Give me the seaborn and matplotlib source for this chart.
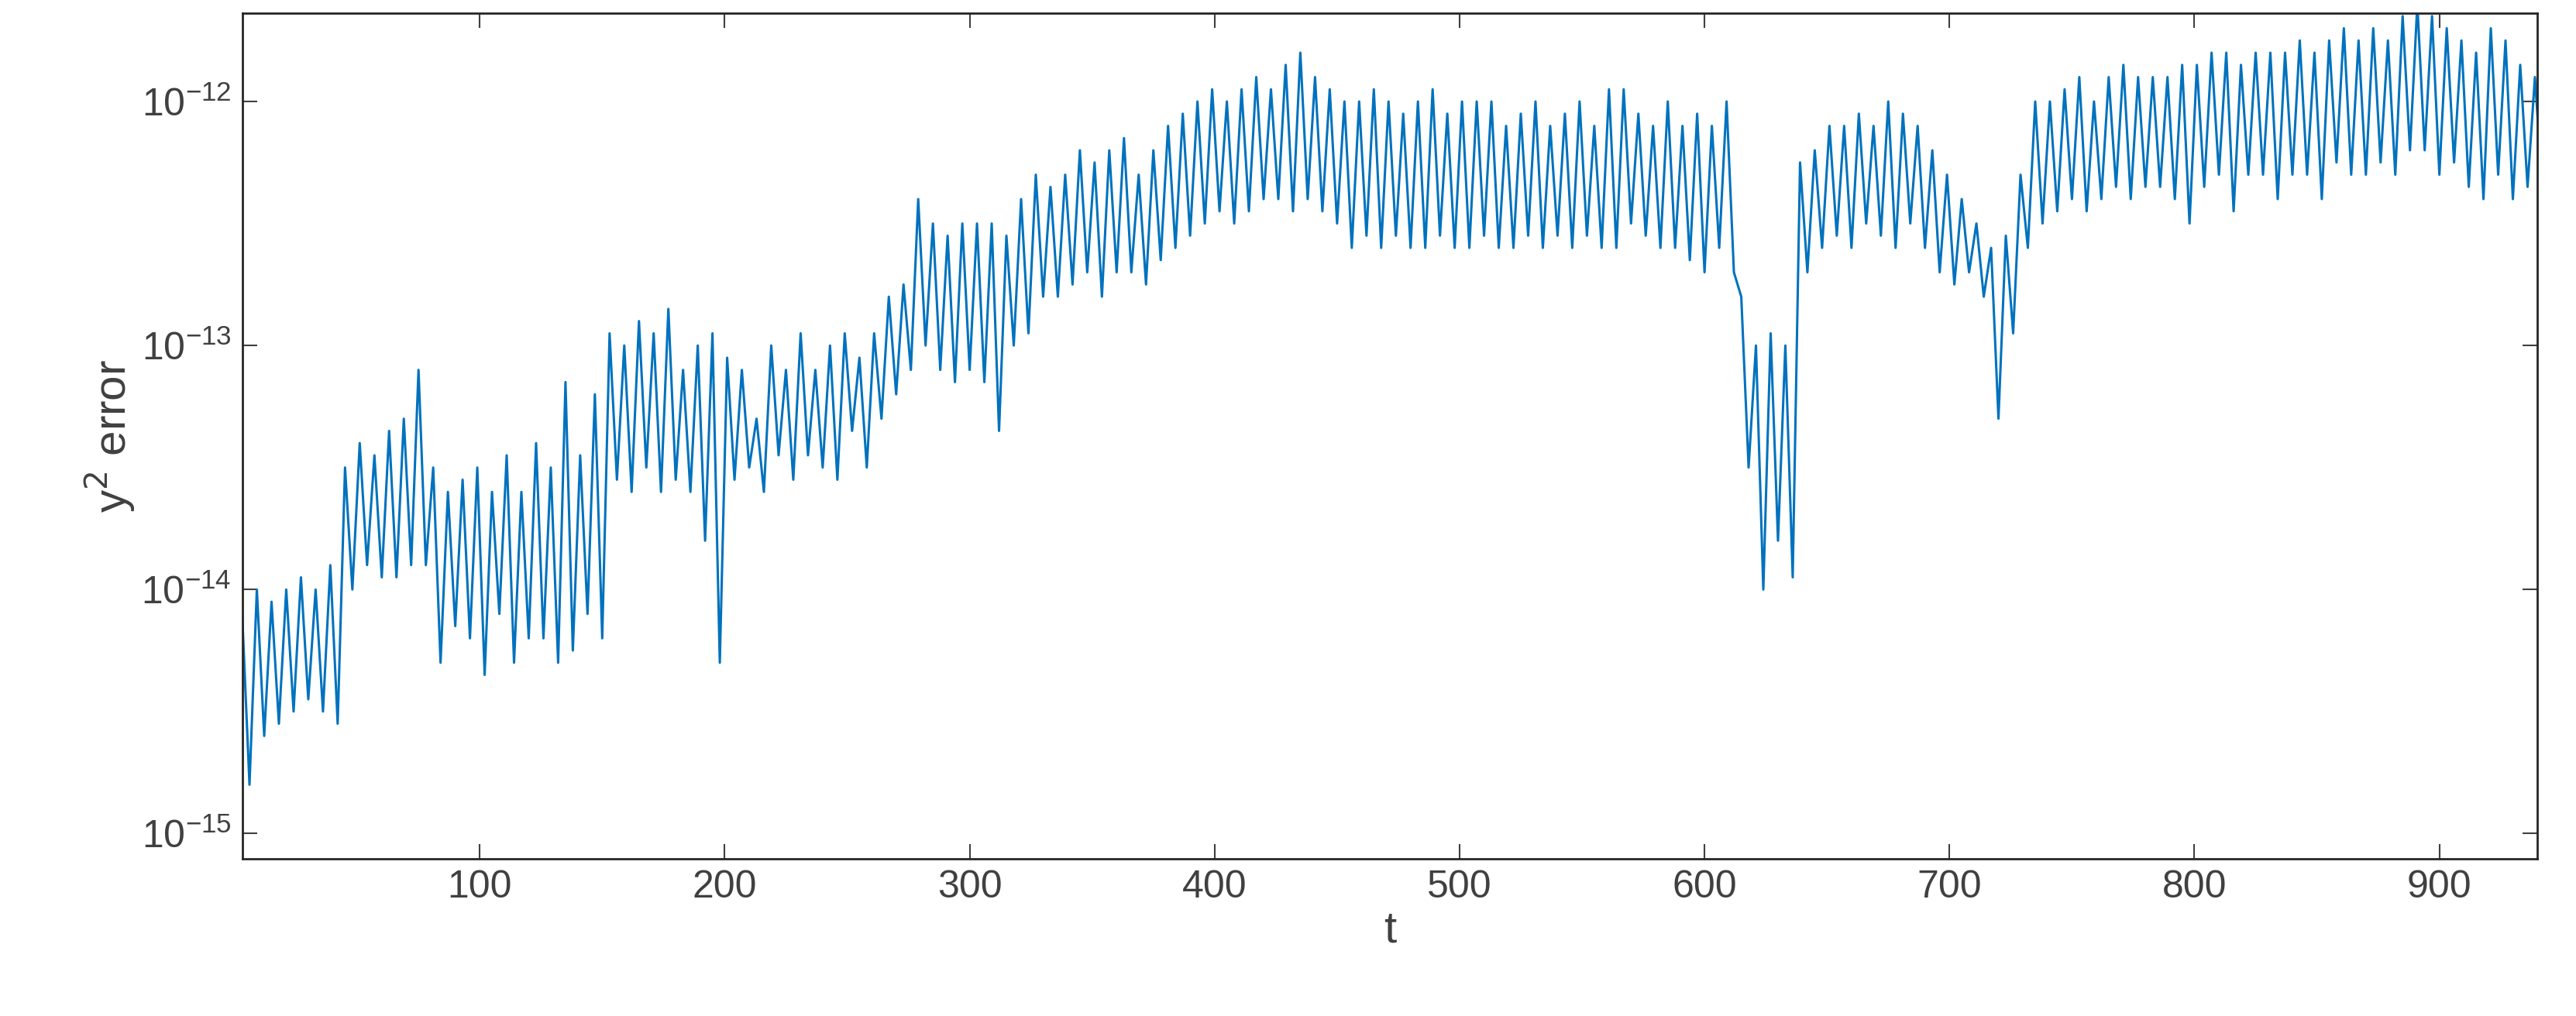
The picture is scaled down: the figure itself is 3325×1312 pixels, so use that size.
import numpy as np
import pandas as pd
import seaborn as sns
import matplotlib.pyplot as plt

# log10 of local maxima (t = 3, 9, 15, ...) and minima (t = 6, 12, 18, ...)
peak_log = [
    -14.1, -14.0, -14.05, -14.0, -13.95, -14.0, -13.9, -13.5, -13.4, -13.45,
    -13.35, -13.3, -13.1, -13.5, -13.6, -13.55, -13.5, -13.6, -13.45, -13.6,
    -13.4, -13.5, -13.15, -13.45, -13.2, -12.95, -13.0, -12.9, -12.95, -12.85,
    -13.1, -13.0, -12.95, -13.05, -13.1, -13.3, -13.0, -13.1, -12.95, -13.1,
    -13.0, -12.95, -13.05, -12.95, -12.8, -12.75, -12.4, -12.5, -12.55, -12.5,
    -12.5, -12.5, -12.55, -12.4, -12.3, -12.35, -12.3, -12.2, -12.25, -12.2,
    -12.15, -12.3, -12.2, -12.1, -12.05, -12.0, -11.95, -12.0, -11.95, -11.9,
    -11.95, -11.85, -11.8, -11.9, -11.95, -12.0, -12.0, -11.95, -12.0, -12.05,
    -12.0, -11.95, -12.05, -12.0, -12.0, -12.0, -12.1, -12.05, -12.0, -12.1,
    -12.05, -12.0, -12.1, -11.95, -11.95, -12.05, -12.1, -12.0, -12.1, -12.05,
    -12.1, -12.0, -12.8, -13.0, -12.95, -13.0, -12.25, -12.2, -12.1, -12.1,
    -12.05, -12.1, -12.0, -12.05, -12.1, -12.2, -12.3, -12.4, -12.5, -12.6,
    -12.55, -12.3, -12.0, -12.0, -11.95, -11.9, -12.0, -11.9, -11.85, -11.9,
    -11.9, -11.9, -11.85, -11.85, -11.8, -11.8, -11.85, -11.8, -11.8, -11.8,
    -11.75, -11.8, -11.75, -11.7, -11.75, -11.7, -11.75, -11.65, -11.6, -11.65,
    -11.7, -11.75, -11.8, -11.7, -11.75, -11.85, -11.9,
]
trough_log = [
    -14.8, -14.6, -14.55, -14.5, -14.45, -14.5, -14.55, -14.0, -13.9, -13.95,
    -13.95, -13.9, -13.9, -14.3, -14.15, -14.2, -14.35, -14.1, -14.3, -14.2,
    -14.2, -14.3, -14.25, -14.1, -14.2, -13.55, -13.6, -13.5, -13.6, -13.55,
    -13.6, -13.8, -14.3, -13.55, -13.5, -13.6, -13.45, -13.55, -13.45, -13.5,
    -13.55, -13.35, -13.5, -13.3, -13.2, -13.1, -13.0, -13.1, -13.15, -13.1,
    -13.15, -13.35, -13.0, -12.95, -12.8, -12.8, -12.75, -12.7, -12.8, -12.7,
    -12.7, -12.75, -12.65, -12.6, -12.55, -12.5, -12.45, -12.5, -12.45, -12.4,
    -12.4, -12.45, -12.4, -12.45, -12.5, -12.6, -12.55, -12.6, -12.55, -12.6,
    -12.6, -12.55, -12.6, -12.6, -12.55, -12.6, -12.6, -12.55, -12.6, -12.55,
    -12.6, -12.55, -12.6, -12.6, -12.5, -12.55, -12.6, -12.6, -12.65, -12.7,
    -12.6, -12.7, -13.5, -14.0, -13.8, -13.95, -12.7, -12.6, -12.55, -12.6,
    -12.5, -12.55, -12.6, -12.5, -12.6, -12.7, -12.75, -12.7, -12.8, -13.3,
    -12.95, -12.6, -12.5, -12.45, -12.4, -12.45, -12.4, -12.35, -12.4, -12.35,
    -12.35, -12.4, -12.5, -12.35, -12.3, -12.45, -12.3, -12.3, -12.4, -12.3,
    -12.3, -12.4, -12.25, -12.3, -12.3, -12.25, -12.3, -12.2, -12.2, -12.3,
    -12.25, -12.35, -12.4, -12.3, -12.4, -12.35, -12.35,
]
start_t = [1]
start_log = [-15.1]

t_peak = 3 + 6 * np.arange(len(peak_log))
t_trough = 6 + 6 * np.arange(len(trough_log))

df = pd.DataFrame({
    "t": np.concatenate([start_t, t_peak, t_trough]),
    "err": 10.0 ** np.concatenate([start_log, peak_log, trough_log]),
}).sort_values("t")

sns.set_style("white")
plt.rcParams["font.family"] = ["Liberation Sans", "DejaVu Sans"]
txt = "#404040"

fig, ax = plt.subplots(figsize=(33.25, 13.12), dpi=100)
sns.lineplot(data=df, x="t", y="err", ax=ax, color="#0072BD", linewidth=2.2, sort=True)
ax.set_yscale("log")
ax.set_xlim(3, 940)
ax.set_ylim(7.9e-16, 2.3e-12)
ax.set_xticks(range(100, 1000, 100))
ax.set_yticks([1e-15, 1e-14, 1e-13, 1e-12])
ax.minorticks_off()
ax.tick_params(direction="in", length=14, width=1.5, labelsize=36, colors=txt,
               top=True, right=True, bottom=True, left=True, pad=10)
for s in ax.spines.values():
    s.set_linewidth(2)
    s.set_color("#262626")
ax.set_xlabel("t", fontsize=42, color=txt)
ax.set_ylabel("y$^2$ error", fontsize=42, color=txt)
fig.subplots_adjust(left=0.094, right=0.985, top=0.987, bottom=0.155)
fig.savefig("out.png", dpi=100)
